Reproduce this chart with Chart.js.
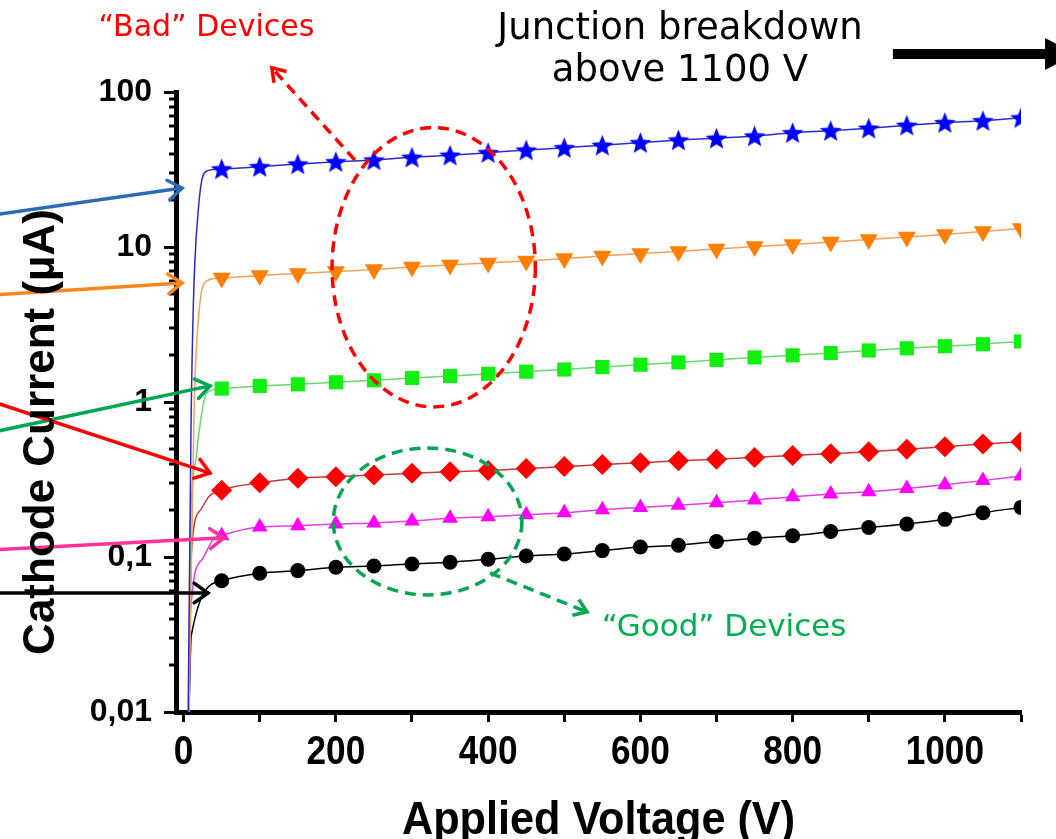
<!DOCTYPE html>
<html>
<head>
<meta charset="utf-8">
<script src="https://cdn.jsdelivr.net/npm/chart.js@4.4.1/dist/chart.umd.min.js"></script>
<style>
  html, body { margin: 0; padding: 0; background: #ffffff; }
  canvas { display: block; }
</style>
</head>
<body>
<canvas id="iv" width="1056" height="839"></canvas>
<script>
// Reverse sweeps of six devices: cathode current (µA) against applied voltage (V)
const sweepVoltage = [50, 100, 150, 200, 250, 300, 350, 400, 450, 500, 550,
                      600, 650, 700, 750, 800, 850, 900, 950, 1000, 1050, 1100];

const currentStar     = [31.9, 33.0, 34.3, 35.5, 36.4, 37.9, 39.1, 40.6, 42.2, 43.7, 45.3,
                         47.1, 49.0, 50.3, 52.0, 54.6, 56.3, 58.4, 61.0, 63.4, 65.3, 68.2];
const currentTriDown  = [6.31, 6.55, 6.75, 6.95, 7.16, 7.43, 7.66, 7.89, 8.13, 8.44, 8.75,
                         9.08, 9.36, 9.71, 10.07, 10.38, 10.77, 11.17, 11.60, 12.04, 12.59, 13.16];
const currentSquare   = [1.22, 1.27, 1.30, 1.34, 1.38, 1.43, 1.47, 1.52, 1.57, 1.62, 1.68,
                         1.74, 1.80, 1.87, 1.94, 2.00, 2.07, 2.15, 2.22, 2.29, 2.36, 2.46];
const currentDiamond  = [0.270, 0.301, 0.322, 0.330, 0.338, 0.347, 0.355, 0.361, 0.372, 0.383, 0.395,
                         0.406, 0.418, 0.427, 0.439, 0.452, 0.464, 0.478, 0.495, 0.515, 0.536, 0.554];
const currentTriUp    = [0.137, 0.156, 0.159, 0.163, 0.166, 0.171, 0.178, 0.182, 0.187, 0.193, 0.202,
                         0.209, 0.216, 0.224, 0.233, 0.245, 0.255, 0.264, 0.277, 0.292, 0.311, 0.333];
const currentCircle   = [0.0703, 0.0785, 0.0817, 0.0859, 0.0875, 0.0902, 0.0925, 0.0967, 0.1015, 0.1045, 0.110,
                         0.116, 0.119, 0.126, 0.132, 0.137, 0.146, 0.155, 0.163, 0.175, 0.193, 0.209];

// turn-on part of each sweep below 50 V, as [voltage, current] pairs
const riseStar    = [[6, 0.01], [10, 0.9], [20, 19], [31, 31]];
const riseTriDown = [[7, 0.01], [14, 0.98], [20, 3.7], [31, 6.07]];
const riseSquare  = [[7, 0.01], [9, 0.14], [16, 0.42], [20, 0.63], [30, 1.14]];
const riseDiamond = [[7, 0.01], [9, 0.087], [22, 0.2], [33, 0.245]];
const riseTriUp   = [[7, 0.01], [9, 0.0435], [24, 0.096], [38, 0.128]];
const riseCircle  = [[7, 0.01], [10, 0.031]];

// axis ticks
const voltageTicks        = [0, 100, 200, 300, 400, 500, 600, 700, 800, 900, 1000, 1100];
const voltageTickLabels   = ['0', '', '200', '', '400', '', '600', '', '800', '', '1000', ''];
const currentDecades      = [0.01, 0.1, 1, 10, 100];
const currentDecadeLabels = ['0,01', '0,1', '1', '10', '100'];

const BOLD_SANS = '"Liberation Sans", Arial, Helvetica, sans-serif';
const NOTE_SANS = '"DejaVu Sans", Verdana, Tahoma, sans-serif';

function series(rise, values) {
  return rise.map(([x, y]) => ({ x, y }))
    .concat(sweepVoltage.map((x, i) => ({ x, y: values[i] })));
}

// markers only on the 50 V grid of the sweep
const markerSize = r => ctx => (ctx.raw && ctx.raw.x >= sweepVoltage[0]) ? r : 0;

function starMarker(color, r) {
  const c = document.createElement('canvas');
  const s = Math.ceil(2 * r + 2);
  c.width = s; c.height = s;
  const g = c.getContext('2d');
  g.translate(s / 2, s / 2 + 1);
  g.beginPath();
  for (let k = 0; k < 10; k++) {
    const rr = (k % 2) ? r * 0.43 : r;
    const a = -Math.PI / 2 + k * Math.PI / 5;
    g.lineTo(rr * Math.cos(a), rr * Math.sin(a));
  }
  g.closePath();
  g.fillStyle = color;
  g.fill();
  return c;
}

const datasets = [
  { data: series(riseStar, currentStar), borderColor: '#2a2ad2', pointBackgroundColor: '#0000ff',
    pointStyle: starMarker('#0000ff', 11.5), pointRadius: markerSize(10) },
  { data: series(riseTriDown, currentTriDown), borderColor: '#f2a05a', pointBackgroundColor: '#ff8000',
    pointStyle: 'triangle', pointRotation: 180, pointRadius: markerSize(10.5) },
  { data: series(riseSquare, currentSquare), borderColor: '#6ad86a', pointBackgroundColor: '#10f010',
    pointStyle: 'rect', pointRadius: markerSize(10) },
  { data: series(riseDiamond, currentDiamond), borderColor: '#c43a3a', pointBackgroundColor: '#ff0000',
    pointStyle: 'rectRot', pointRadius: markerSize(10.5) },
  { data: series(riseTriUp, currentTriUp), borderColor: '#e040e0', pointBackgroundColor: '#ff00ff',
    pointStyle: 'triangle', pointRadius: markerSize(9) },
  { data: series(riseCircle, currentCircle), borderColor: '#000000', pointBackgroundColor: '#000000',
    pointStyle: 'circle', pointRadius: markerSize(7.5) }
].map(d => Object.assign({ borderWidth: 1.5, pointBorderWidth: 0, clip: 0, cubicInterpolationMode: 'monotone' }, d));

// call-outs, anchored in (voltage, current) coordinates
const pointerArrows = [
  { color: '#2f6bb5', from: [-250, 16.1],  to: [-2, 24.0] },
  { color: '#f7861c', from: [-250, 4.9],   to: [-2, 5.86] },
  { color: '#00a651', from: [-250, 0.64],  to: [34.7, 1.27] },
  { color: '#ff0000', from: [-250, 1.0],   to: [34.7, 0.348] },
  { color: '#ff3399', from: [-250, 0.111], to: [53, 0.133] },
  { color: '#000000', from: [-250, 0.0586], to: [32, 0.0586] }
];

function chevron(ctx, tip, from, len, spread) {
  const ang = Math.atan2(tip[1] - from[1], tip[0] - from[0]);
  ctx.beginPath();
  ctx.moveTo(tip[0] - len * Math.cos(ang - spread), tip[1] - len * Math.sin(ang - spread));
  ctx.lineTo(tip[0], tip[1]);
  ctx.lineTo(tip[0] - len * Math.cos(ang + spread), tip[1] - len * Math.sin(ang + spread));
  ctx.stroke();
}

const callouts = {
  id: 'callouts',
  afterDraw(chart) {
    const { ctx, chartArea } = chart;
    const xs = chart.scales.x, ys = chart.scales.y;
    const P = (v, i) => [xs.getPixelForValue(v), ys.getPixelForValue(i)];
    ctx.save();

    // short minor ticks on the current axis
    ctx.strokeStyle = '#000';
    ctx.lineWidth = 3;
    ys.ticks.forEach(t => {
      if (t.major) return;
      const py = Math.round(ys.getPixelForValue(t.value));
      ctx.beginPath();
      ctx.moveTo(chartArea.left - 7, py);
      ctx.lineTo(chartArea.left, py);
      ctx.stroke();
    });

    // voltage tick labels in a condensed bold face
    ctx.fillStyle = '#000';
    ctx.font = 'bold 40px ' + BOLD_SANS;
    ctx.textAlign = 'center';
    ctx.textBaseline = 'alphabetic';
    xs.ticks.forEach((t, i) => {
      const lbl = voltageTickLabels[i];
      if (!lbl) return;
      ctx.save();
      ctx.translate(xs.getPixelForValue(t.value), chartArea.bottom + 52);
      ctx.scale(0.88, 1);
      ctx.fillText(lbl, 0, 0);
      ctx.restore();
    });

    // coloured pointers from the left margin
    ctx.lineWidth = 3.5;
    ctx.lineCap = 'round';
    ctx.lineJoin = 'miter';
    pointerArrows.forEach(a => {
      const f = P(...a.from), t = P(...a.to);
      ctx.strokeStyle = a.color;
      ctx.beginPath();
      ctx.moveTo(f[0], f[1]);
      ctx.lineTo(t[0], t[1]);
      ctx.stroke();
      chevron(ctx, t, f, 17, 0.62);
    });

    // dashed groupings
    ctx.lineWidth = 3.5;
    ctx.lineCap = 'butt';
    ctx.setLineDash([11, 7]);
    const ring = (v0, v1, i0, i1, color) => {
      const a = P(v0, i1), b = P(v1, i0);
      ctx.strokeStyle = color;
      ctx.beginPath();
      ctx.ellipse((a[0] + b[0]) / 2, (a[1] + b[1]) / 2, (b[0] - a[0]) / 2, (b[1] - a[1]) / 2, 0, 0, 2 * Math.PI);
      ctx.stroke();
    };
    ring(195, 462, 0.93, 59, '#ff0000');
    ring(196.6, 444.4, 0.0569, 0.505, '#00a651');

    const dashedArrow = (from, to, color) => {
      const f = P(...from), t = P(...to);
      ctx.strokeStyle = color;
      ctx.setLineDash([11, 7]);
      ctx.beginPath();
      ctx.moveTo(f[0], f[1]);
      ctx.lineTo(t[0], t[1]);
      ctx.stroke();
      ctx.setLineDash([]);
      chevron(ctx, t, f, 15, 0.6);
    };
    dashedArrow([225, 36.4], [116, 143], '#ff0000');
    dashedArrow([402.5, 0.0789], [530, 0.0442], '#00a651');

    // labels
    ctx.setLineDash([]);
    ctx.textAlign = 'center';
    ctx.textBaseline = 'middle';
    ctx.font = '30px ' + NOTE_SANS;
    ctx.fillStyle = '#ff0000';
    ctx.fillText('\u201CBad\u201D Devices', ...P(30, 258));
    ctx.fillStyle = '#00b050';
    ctx.font = '31px ' + NOTE_SANS;
    ctx.fillText('\u201CGood\u201D Devices', ...P(710, 0.0348));
    ctx.fillStyle = '#000000';
    ctx.font = '37px ' + NOTE_SANS;
    ctx.fillText('Junction breakdown', ...P(652, 255));
    ctx.fillText('above 1100 V', ...P(652, 135));

    // breakdown arrow running off the right edge
    const s0 = P(931.7, 175.8), s1 = P(1171, 175.8);
    ctx.fillStyle = '#000';
    ctx.fillRect(s0[0], s0[1] - 5, s1[0] - 28 - s0[0], 10);
    ctx.beginPath();
    ctx.moveTo(s1[0] - 30, s0[1] - 16);
    ctx.lineTo(s1[0], s0[1]);
    ctx.lineTo(s1[0] - 30, s0[1] + 16);
    ctx.closePath();
    ctx.fill();

    // axis titles
    ctx.fillStyle = '#000';
    ctx.textBaseline = 'alphabetic';
    ctx.save();
    ctx.translate((chartArea.left + chartArea.right) / 2, 834);
    ctx.scale(0.92, 1);
    ctx.font = 'bold 47px ' + BOLD_SANS;
    ctx.fillText('Applied Voltage (V)', 0, 0);
    ctx.restore();
    ctx.save();
    ctx.translate(54, (chartArea.top + chartArea.bottom) / 2 + 30);
    ctx.rotate(-Math.PI / 2);
    ctx.font = 'bold 44px ' + BOLD_SANS;
    ctx.fillText('Cathode Current (\u00B5A)', 0, 0);
    ctx.restore();

    ctx.restore();
  }
};

new Chart(document.getElementById('iv'), {
  type: 'line',
  data: { datasets },
  plugins: [callouts],
  options: {
    responsive: false,
    animation: false,
    devicePixelRatio: 1,
    layout: { padding: { top: 92, right: 35, left: 0, bottom: 0 } },
    plugins: { legend: { display: false }, tooltip: { enabled: false } },
    scales: {
      x: {
        type: 'linear',
        min: -10,
        max: 1100,
        afterBuildTicks: s => { s.ticks = voltageTicks.map(v => ({ value: v })); },
        afterFit: s => { s.height = 127; },
        ticks: { display: false, autoSkip: false, maxRotation: 0 },
        grid: { drawOnChartArea: false, drawTicks: true, tickLength: 10, tickWidth: 3, tickColor: '#000' },
        border: { display: true, color: '#000', width: 5 }
      },
      y: {
        type: 'logarithmic',
        min: 0.01,
        max: 100,
        afterBuildTicks: s => {
          const t = [];
          currentDecades.forEach((d, k) => {
            if (k === currentDecades.length - 1) { t.push({ value: d, major: true }); return; }
            for (let m = 1; m <= 9; m++) t.push({ value: Number((m * d).toPrecision(3)), major: m === 1 });
          });
          s.ticks = t;
        },
        afterFit: s => { s.width = 176; },
        ticks: {
          autoSkip: false, padding: 12, color: '#000',
          font: { family: BOLD_SANS, size: 32, weight: 'bold' },
          callback: v => {
            const k = currentDecades.findIndex(d => Math.abs(d - v) < d * 1e-6);
            return k >= 0 ? currentDecadeLabels[k] : '';
          }
        },
        grid: {
          drawOnChartArea: false, drawTicks: true, tickLength: 12, tickWidth: 3,
          tickColor: c => (c.tick && c.tick.major) ? '#000' : 'rgba(0,0,0,0)'
        },
        border: { display: true, color: '#000', width: 5 }
      }
    }
  }
});
</script>
</body>
</html>
